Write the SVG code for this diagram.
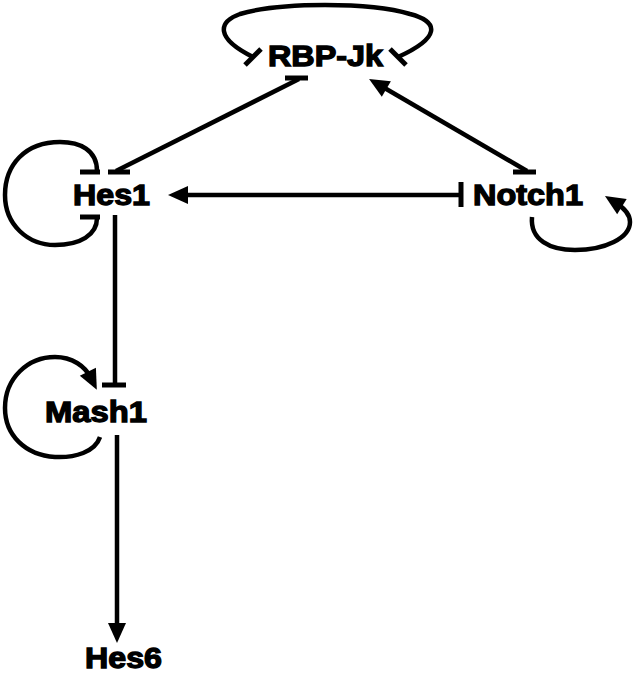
<svg xmlns="http://www.w3.org/2000/svg" width="636" height="673" viewBox="0 0 636 673">
<style>
.lbl{font-family:"Liberation Sans",Arial,sans-serif;font-weight:bold;font-size:29px;fill:#000;stroke:#000;stroke-width:1.3px}
.edge{fill:none;stroke:#000;stroke-width:4.5}
.bar{stroke:#000;stroke-width:5}
</style>
<defs>
<marker id="arr" markerUnits="userSpaceOnUse" markerWidth="20" markerHeight="18" refX="7" refY="9" orient="auto" overflow="visible">
<path d="M0,0 L20,9 L0,18 z" fill="#000"/>
</marker>
</defs>
<rect width="636" height="673" fill="#fff"/>
<g id="connectors">
<!-- RBP-Jk self inhibition -->
<path class="edge" d="M253,57 C215,38 218,22 240,14 C280,2 370,2 410,14 C440,22 440,38 398,57"/>
<line class="bar" x1="245" y1="65" x2="261" y2="49"/>
<line class="bar" x1="390" y1="49" x2="406" y2="65"/>
<!-- Hes1 - RBP-Jk -->
<line class="edge" x1="116" y1="171" x2="299" y2="79"/>
<line class="bar" x1="285" y1="78" x2="308" y2="78"/>
<line class="bar" x1="108" y1="172" x2="130" y2="172"/>
<!-- Notch1 -> RBP-Jk -->
<line class="edge" x1="527" y1="171" x2="380.3" y2="85.5" marker-end="url(#arr)"/>
<line class="bar" x1="513" y1="172" x2="536" y2="172"/>
<!-- Notch1 -> Hes1 -->
<line class="edge" x1="461" y1="195" x2="181" y2="195" marker-end="url(#arr)"/>
<line class="bar" x1="461" y1="182" x2="461" y2="207"/>
<!-- Hes1 self loop -->
<path class="edge" d="M97,171 C97,150 80,142 60,142 C25,142 5,165 5,195 C5,225 28,245 55,245 C80,245 97,235 97,218"/>
<line class="bar" x1="80" y1="172" x2="100" y2="172"/>
<line class="bar" x1="80" y1="217" x2="100" y2="217"/>
<!-- Hes1 -| Mash1 -->
<line class="edge" x1="115" y1="215" x2="115" y2="385"/>
<line class="bar" x1="102" y1="385" x2="126" y2="385"/>
<!-- Mash1 self loop -->
<path class="edge" d="M100,437 C95,452 75,458 55,457 C25,455 5,435 5,408 C5,378 28,357 55,357 C72,357 85,366 91,378" marker-end="url(#arr)"/>
<!-- Mash1 -> Hes6 -->
<line class="edge" x1="117" y1="435" x2="117" y2="630" marker-end="url(#arr)"/>
<!-- Notch1 self loop -->
<path class="edge" d="M532,217 C530,240 550,250 575,250 C605,250 630,238 630,222 C630,214 624,208 616,203" marker-end="url(#arr)"/>
</g>
<g id="RBP-Jk"><text class="lbl" x="268" y="66" textLength="115" lengthAdjust="spacingAndGlyphs">RBP-Jk</text></g>
<g id="Hes1"><text class="lbl" x="73" y="205" textLength="77" lengthAdjust="spacingAndGlyphs">Hes1</text></g>
<g id="Notch1"><text class="lbl" x="473" y="205" textLength="110" lengthAdjust="spacingAndGlyphs">Notch1</text></g>
<g id="Mash1"><text class="lbl" x="45" y="422" textLength="102" lengthAdjust="spacingAndGlyphs">Mash1</text></g>
<g id="Hes6"><text class="lbl" x="85" y="668" textLength="77" lengthAdjust="spacingAndGlyphs">Hes6</text></g>
</svg>
